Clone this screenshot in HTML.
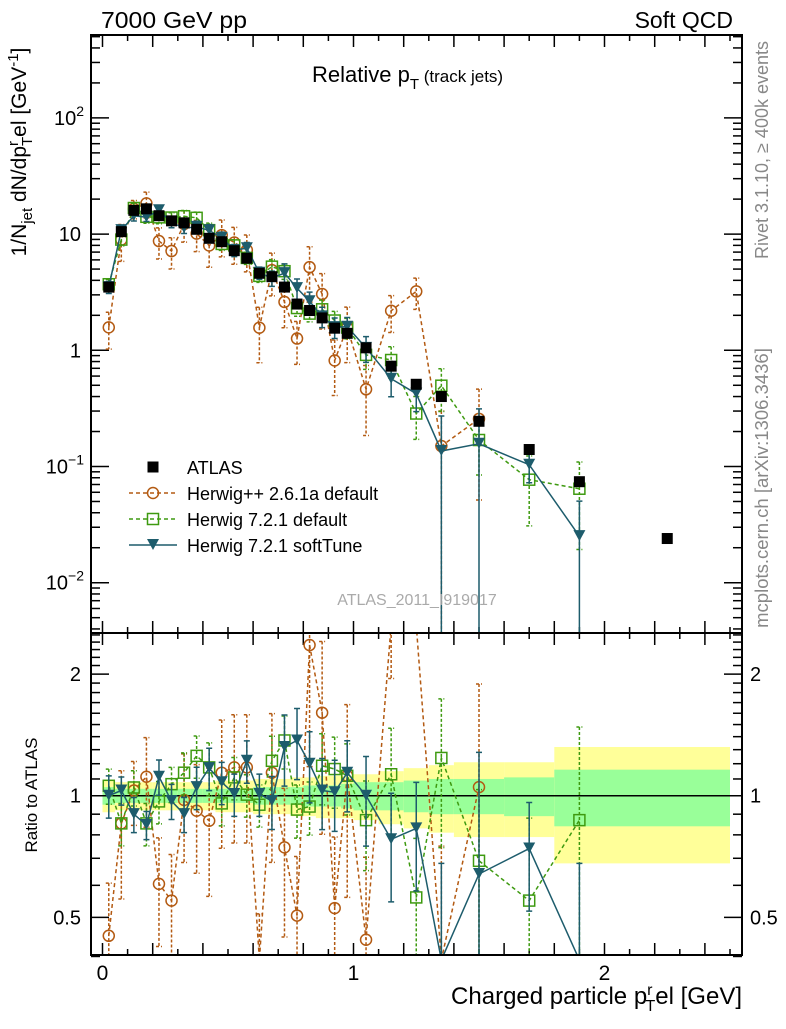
<!DOCTYPE html>
<html><head><meta charset="utf-8"><style>
html,body{margin:0;padding:0;background:#fff;}
svg text{font-family:"Liberation Sans",sans-serif;}
</style></head><body>
<svg id="chart" width="786" height="1024" xmlns="http://www.w3.org/2000/svg">
<defs>
<clipPath id="cMain"><rect x="91" y="35" width="651" height="598"/></clipPath>
<clipPath id="cRat"><rect x="91" y="633" width="651" height="322"/></clipPath>
</defs>
<g id="bands" clip-path="url(#cRat)"></g>
<g id="ticks"></g>
<g id="marks"></g>
<rect x="91" y="35" width="651" height="598" fill="none" stroke="#000" stroke-width="2"/>
<rect x="91" y="633" width="651" height="322" fill="none" stroke="#000" stroke-width="2"/>
<text x="101" y="28" font-size="23" textLength="146" lengthAdjust="spacingAndGlyphs">7000 GeV pp</text>
<text x="733" y="28" font-size="23" text-anchor="end">Soft QCD</text>
<text x="312" y="82" font-size="22">Relative p<tspan font-size="15" dy="7">T</tspan><tspan font-size="17" dy="-7"> (track jets)</tspan></text>
<text transform="translate(26,152) rotate(-90)" font-size="21" text-anchor="middle">1/N<tspan font-size="15" dy="6">jet</tspan><tspan dy="-6"> dN/dp</tspan><tspan font-size="15" dy="-8">r</tspan><tspan font-size="15" dx="-5" dy="14">T</tspan><tspan dy="-6">el [GeV</tspan><tspan font-size="15" dy="-8">-1</tspan><tspan dy="8">]</tspan></text>
<text transform="translate(768,150) rotate(-90)" font-size="18" fill="#888" text-anchor="middle">Rivet 3.1.10, ≥ 400k events</text>
<text transform="translate(768,488) rotate(-90)" font-size="18.5" fill="#888" text-anchor="middle">mcplots.cern.ch [arXiv:1306.3436]</text>
<text x="417" y="605" font-size="16" fill="#aaa" text-anchor="middle">ATLAS_2011_I919017</text>
<text transform="translate(37,795) rotate(-90)" font-size="17" text-anchor="middle">Ratio to ATLAS</text>
<text x="742" y="1004" font-size="24" text-anchor="end">Charged particle p<tspan font-size="16" dy="-9">r</tspan><tspan font-size="16" dx="-7" dy="16">T</tspan><tspan dy="-7">el [GeV]</tspan></text>
<g id="legend"></g>
</svg>
<script>
const edges=[0,0.05,0.1,0.15,0.2,0.25,0.3,0.35,0.4,0.45,0.5,0.55,0.6,0.65,0.7,0.75,0.8,0.85,0.9,0.95,1.0,1.1,1.2,1.3,1.4,1.6,1.8,2.0,2.5];
const atlas=[3.5,10.5,16,16.5,14.4,13,12.5,11,9.2,8.6,7.2,6.2,4.6,4.3,3.5,2.5,2.2,1.9,1.55,1.4,1.05,0.73,0.51,0.4,0.245,0.14,0.074,0.024];
const statErr=[0.05,0.04,0.04,0.04,0.04,0.04,0.04,0.04,0.04,0.04,0.04,0.04,0.05,0.05,0.05,0.05,0.06,0.06,0.06,0.07,0.08,0.08,0.09,0.10,0.10,0.11,0.16,0.16];
const totErr=[0.09,0.08,0.08,0.08,0.08,0.08,0.08,0.08,0.08,0.09,0.09,0.09,0.10,0.10,0.10,0.11,0.11,0.12,0.12,0.12,0.13,0.15,0.17,0.19,0.21,0.21,0.32,0.32];
const herwigppRatio=[0.45,0.854,1.03,1.114,0.605,0.55,0.976,0.918,0.867,1.14,1.175,1.175,0.34,1.14,0.745,0.505,2.36,1.605,0.527,1.12,0.44,3.0,6.3,0.375,1.05];
const herwigppErr=[0.35,0.35,0.18,0.25,0.3,0.3,0.3,0.3,0.35,0.35,0.35,0.35,0.5,0.4,0.4,0.4,0.5,0.5,0.5,0.5,0.6,0.35,0.3,1.0,0.8];
const h7defRatio=[1.058,0.854,1.048,0.854,0.968,1.068,1.14,1.255,1.175,0.957,1.11,1.006,0.95,1.22,1.37,0.924,0.94,1.186,1.164,1.12,0.87,1.13,0.56,1.24,0.69,0.55,0.87];
const h7defErr=[0.1,0.12,0.1,0.12,0.12,0.1,0.12,0.12,0.15,0.12,0.12,0.12,0.12,0.15,0.15,0.15,0.15,0.2,0.2,0.2,0.25,0.3,0.4,0.4,0.5,0.6,0.7];
const h7softRatio=[1.0,1.03,0.90,0.846,1.114,0.97,0.90,1.05,1.17,1.08,1.01,1.22,1.01,0.97,1.32,1.37,1.20,1.03,1.02,1.14,1.0,0.78,0.83,0.34,0.64,0.74,0.34];
const h7softErr=[0.12,0.08,0.1,0.08,0.1,0.1,0.1,0.12,0.12,0.12,0.12,0.12,0.12,0.15,0.2,0.2,0.2,0.2,0.2,0.2,0.25,0.3,0.3,1,1,0.3,1];

const NS="http://www.w3.org/2000/svg";
const X=v=>102.5+251*v;
const YM=v=>350.3-116.2*Math.log10(v);
const YR=r=>795.7-404*Math.log10(r);
const YMc=v=>v<=0?640:Math.min(640,YM(v));
const YRc=r=>r<=0?960:Math.min(960,Math.max(625,YR(r)));
function el(tag,attrs,parent){const e=document.createElementNS(NS,tag);for(const k in attrs)e.setAttribute(k,attrs[k]);parent.appendChild(e);return e;}
const mids=edges.slice(0,-1).map((e,i)=>(e+edges[i+1])/2);

const bands=document.getElementById('bands');
for(let i=0;i<atlas.length;i++){
  const x0=X(edges[i]),x1=X(edges[i+1]);
  const y=el('rect',{x:x0,y:YR(1+totErr[i]),width:x1-x0,height:YR(1-totErr[i])-YR(1+totErr[i]),fill:'#ffff99'},bands);
  
  
  const g=el('rect',{x:x0,y:YR(1+statErr[i]),width:x1-x0,height:YR(1-statErr[i])-YR(1+statErr[i]),fill:'#99ff99'},bands);
  
  
}
const one=el('line',{x1:91,x2:742,y1:YR(1),y2:YR(1),stroke:'#000','stroke-width':1.5},bands);



const tk=document.getElementById('ticks');
function line(x1,y1,x2,y2,w){const l=el('line',{x1,y1,x2,y2,stroke:'#000','stroke-width':w||1.5},tk);}
function label(x,y,txt,anchor,name,size){const t=el('text',{x,y,'font-size':size||20,'text-anchor':anchor},tk);t.innerHTML=txt;}
for(let k=0;k<=25;k++){const v=k*0.1,x=X(v);const L=(k%2==0)?12:6;
  [[35,1],[633,-1],[633,1],[955,-1]].forEach(([y,d])=>line(x,y,x,y+d*L));}
['0','1','2'].forEach((s,i)=>label(X(i),980,s,'middle','x-tick-label',21));
for(let e=-3;e<=2;e++){for(let m=1;m<=9;m++){const v=m*Math.pow(10,e);const y=YM(v);if(y<35||y>633)continue;const L=m==1?18:9;line(91,y,91+L,y);line(742,y,742-L,y);}}
const ml=[['10<tspan font-size="14" dy="-9">2</tspan>',100],['10',10],['1',1],['10<tspan font-size="14" dy="-9">−1</tspan>',0.1],['10<tspan font-size="14" dy="-9">−2</tspan>',0.01]];
ml.forEach(([t,v])=>label(v>=10&&v<100?81:(v==1?81:84),YM(v)+7,t,'end','y-tick-label',20));
for(let k=4;k<=25;k++){const r=k/10;const y=YR(r);const maj=(k==5||k==10||k==20);const L=maj?18:9;line(91,y,91+L,y);line(742,y,742-L,y);}
[['2',2],['1',1],['0.5',0.5]].forEach(([t,r])=>{label(81,YR(r)+7,t,'end','ratio-tick-label',20);label(750,YR(r)+7,t,'start','ratio-tick-label-right',20);});

const marks=document.getElementById('marks');
const gm=el('g',{'clip-path':'url(#cMain)'},marks);
const gr=el('g',{'clip-path':'url(#cRat)'},marks);
function marker(type,x,y,color,parent,name){
  let m;
  if(type=='circle')m=el('circle',{cx:x,cy:y,r:5.5,fill:'none',stroke:color,'stroke-width':1.5},parent);
  else if(type=='square')m=el('rect',{x:x-5.5,y:y-5.5,width:11,height:11,fill:'none',stroke:color,'stroke-width':1.5},parent);
  else if(type=='tri')m=el('path',{d:`M${x-6},${y-6}L${x+6},${y-6}L${x},${y+5}Z`,fill:color},parent);
  else m=el('rect',{x:x-5.5,y:y-5.5,width:11,height:11,fill:'#000'},parent);
  
  
}
const series=[
 {r:herwigppRatio,e:herwigppErr,c:'#b35a12',t:'circle',dash:'4,3',n:'herwigpp-261a'},
 {r:h7defRatio,e:h7defErr,c:'#3e9a10',t:'square',dash:'4,3',n:'herwig721-default'},
 {r:h7softRatio,e:h7softErr,c:'#1d5c6c',t:'tri',dash:'',n:'herwig721-softtune'}];
series.forEach(s=>{
  const mv=s.r.map((r,i)=>r*atlas[i]);
  [[gm,i=>YMc(mv[i]),i=>YMc(mv[i]*(1+s.e[i])),i=>YMc(mv[i]*(1-s.e[i]))],
   [gr,i=>YRc(s.r[i]),i=>YRc(s.r[i]*(1+s.e[i])),i=>YRc(s.r[i]*(1-s.e[i]))]].forEach(([p,fy,fu,fd])=>{
    const pts=s.r.map((_,i)=>X(mids[i])+','+fy(i)).join(' ');
    const pl=el('polyline',{points:pts,fill:'none',stroke:s.c,'stroke-width':1.5,'stroke-dasharray':s.dash},p);
    
    
    s.r.forEach((_,i)=>{
      const x=X(mids[i]);
      const eb=el('path',{d:`M${x},${fu(i)}L${x},${fd(i)}M${x-3},${fu(i)}L${x+3},${fu(i)}M${x-3},${fd(i)}L${x+3},${fd(i)}`,stroke:s.c,'stroke-width':1.5,'stroke-dasharray':s.dash?'3,2':'',fill:'none'},p);
      
      
      marker(s.t,x,fy(i),s.c,p,s.n+'-point');
    });
  });
});
atlas.forEach((v,i)=>marker('atlas',X(mids[i]),YM(v),'#000',gm,'atlas-point'));

const lg=document.getElementById('legend');
const items=[['atlas','ATLAS','#000',''],['circle','Herwig++ 2.6.1a default','#b35a12','4,3'],['square','Herwig 7.2.1 default','#3e9a10','4,3'],['tri','Herwig 7.2.1 softTune','#1d5c6c','']];
items.forEach(([t,txt,c,d],k)=>{
  const y=467+26*k;
  const g=el('g',{},lg);
  
  
  if(t!='atlas'){const l=el('line',{x1:129,x2:177,y1:y,y2:y,stroke:c,'stroke-width':1.5,'stroke-dasharray':d},g);}
  marker(t,153,y,c,g,'legend-marker');
  const tx=el('text',{x:187,y:y+7,'font-size':18},g);tx.textContent=txt;
  
  
});
</script>
</body></html>
